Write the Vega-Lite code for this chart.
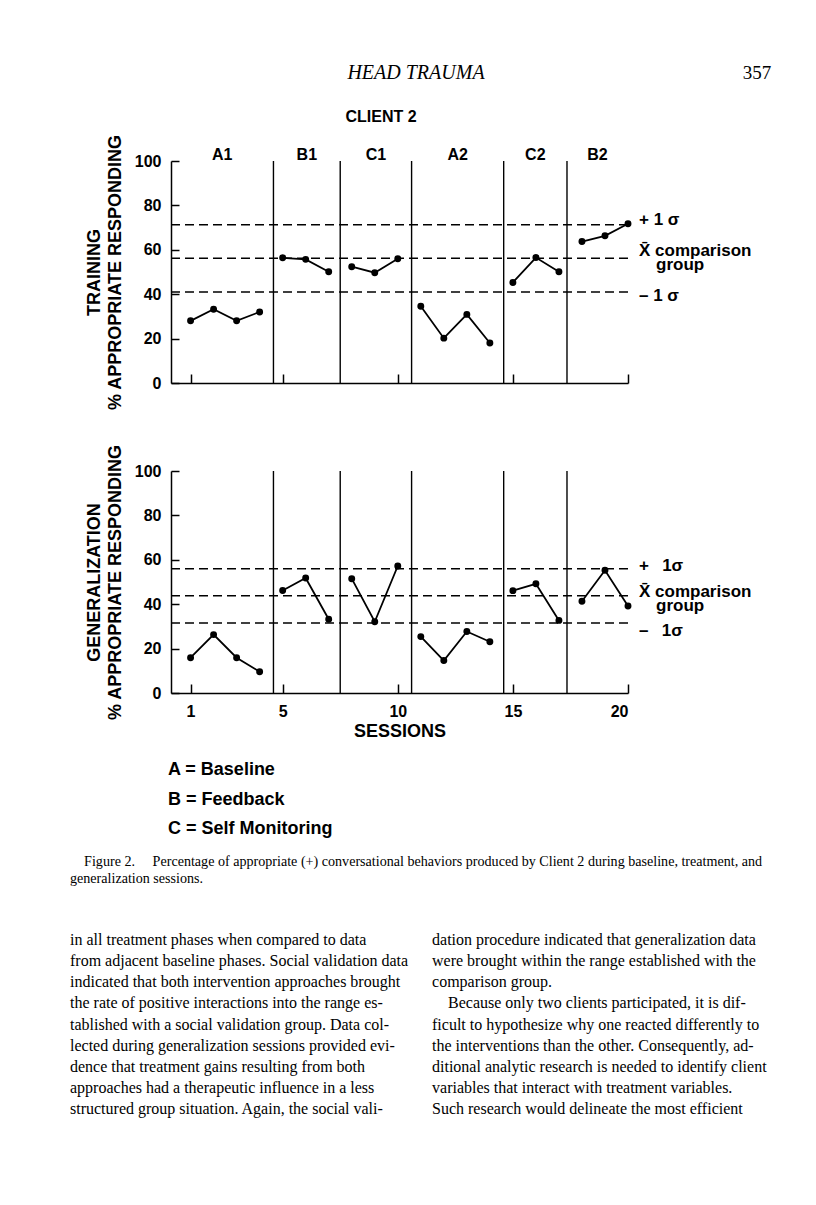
{
  "$schema": "https://vega.github.io/schema/vega-lite/v6.json",
  "background": "white",
  "padding": {"left": 70, "top": 0, "right": 0, "bottom": 0},
  "bounds": "flush",
  "spacing": 88,
  "config": {
    "view": {"stroke": null},
    "font": "Liberation Sans",
    "axis": {
      "grid": false,
      "domainColor": "black",
      "domainWidth": 1.5,
      "tickColor": "black",
      "tickWidth": 1.5,
      "labelColor": "black",
      "titleColor": "black",
      "labelFont": "Liberation Sans",
      "titleFont": "Liberation Sans",
      "labelFontWeight": "bold",
      "titleFontWeight": "bold",
      "labelFontSize": 16,
      "titleFontSize": 18
    }
  },
  "datasets": {
    "sessions": [
      {"measure": "Training", "phase": "A1", "session": 1, "pct": 28.0},
      {"measure": "Training", "phase": "A1", "session": 2, "pct": 33.2},
      {"measure": "Training", "phase": "A1", "session": 3, "pct": 28.0},
      {"measure": "Training", "phase": "A1", "session": 4, "pct": 32.0},
      {"measure": "Training", "phase": "B1", "session": 5, "pct": 56.4},
      {"measure": "Training", "phase": "B1", "session": 6, "pct": 55.7},
      {"measure": "Training", "phase": "B1", "session": 7, "pct": 50.1},
      {"measure": "Training", "phase": "C1", "session": 8, "pct": 52.4},
      {"measure": "Training", "phase": "C1", "session": 9, "pct": 49.7},
      {"measure": "Training", "phase": "C1", "session": 10, "pct": 56.0},
      {"measure": "Training", "phase": "A2", "session": 11, "pct": 34.6},
      {"measure": "Training", "phase": "A2", "session": 12, "pct": 20.2},
      {"measure": "Training", "phase": "A2", "session": 13, "pct": 30.9},
      {"measure": "Training", "phase": "A2", "session": 14, "pct": 18.0},
      {"measure": "Training", "phase": "C2", "session": 15, "pct": 45.3},
      {"measure": "Training", "phase": "C2", "session": 16, "pct": 56.5},
      {"measure": "Training", "phase": "C2", "session": 17, "pct": 50.1},
      {"measure": "Training", "phase": "B2", "session": 18, "pct": 63.7},
      {"measure": "Training", "phase": "B2", "session": 19, "pct": 66.3},
      {"measure": "Training", "phase": "B2", "session": 20, "pct": 71.7},
      {"measure": "Generalization", "phase": "A1", "session": 1, "pct": 15.9},
      {"measure": "Generalization", "phase": "A1", "session": 2, "pct": 26.3},
      {"measure": "Generalization", "phase": "A1", "session": 3, "pct": 15.9},
      {"measure": "Generalization", "phase": "A1", "session": 4, "pct": 9.6},
      {"measure": "Generalization", "phase": "B1", "session": 5, "pct": 46.2},
      {"measure": "Generalization", "phase": "B1", "session": 6, "pct": 51.8},
      {"measure": "Generalization", "phase": "B1", "session": 7, "pct": 33.2},
      {"measure": "Generalization", "phase": "C1", "session": 8, "pct": 51.5},
      {"measure": "Generalization", "phase": "C1", "session": 9, "pct": 32.1},
      {"measure": "Generalization", "phase": "C1", "session": 10, "pct": 57.2},
      {"measure": "Generalization", "phase": "A2", "session": 11, "pct": 25.4},
      {"measure": "Generalization", "phase": "A2", "session": 12, "pct": 14.6},
      {"measure": "Generalization", "phase": "A2", "session": 13, "pct": 27.7},
      {"measure": "Generalization", "phase": "A2", "session": 14, "pct": 23.1},
      {"measure": "Generalization", "phase": "C2", "session": 15, "pct": 46.1},
      {"measure": "Generalization", "phase": "C2", "session": 16, "pct": 49.2},
      {"measure": "Generalization", "phase": "C2", "session": 17, "pct": 32.7},
      {"measure": "Generalization", "phase": "B2", "session": 18, "pct": 41.3},
      {"measure": "Generalization", "phase": "B2", "session": 19, "pct": 55.3},
      {"measure": "Generalization", "phase": "B2", "session": 20, "pct": 39.2}
    ],
    "phases": [
      {"phase": "A1", "start": 0.15, "end": 4.6},
      {"phase": "B1", "start": 4.6, "end": 7.5},
      {"phase": "C1", "start": 7.5, "end": 10.6},
      {"phase": "A2", "start": 10.6, "end": 14.6},
      {"phase": "C2", "start": 14.6, "end": 17.35},
      {"phase": "B2", "start": 17.35, "end": 20}
    ],
    "comparison": [
      {"measure": "Training", "level": "+1 SD", "pct": 71.3, "label": "+ 1 σ"},
      {"measure": "Training", "level": "mean", "pct": 56.2, "label": ["X̄ comparison", "\u200b\u2003group"]},
      {"measure": "Training", "level": "-1 SD", "pct": 41.0, "label": "– 1 σ"},
      {"measure": "Generalization", "level": "+1 SD", "pct": 56.0, "label": "+\u2002 1σ"},
      {"measure": "Generalization", "level": "mean", "pct": 43.8, "label": ["X̄ comparison", "\u200b\u2003group"]},
      {"measure": "Generalization", "level": "-1 SD", "pct": 31.5, "label": "–\u2002 1σ"}
    ],
    "header": [
      {"place": "running head", "text": "HEAD TRAUMA"},
      {"place": "folio", "text": "357"}
    ],
    "figtitle": [
      {"place": "figure title", "text": "CLIENT 2"}
    ],
    "legend": [
      {"line": 1, "text": "A = Baseline"},
      {"line": 2, "text": "B = Feedback"},
      {"line": 3, "text": "C = Self Monitoring"}
    ],
    "caption": [
      {"line": 1, "text": "\u200b\u2003Figure 2.\u2003 Percentage of appropriate (+) conversational behaviors produced by Client 2 during baseline, treatment, and"},
      {"line": 2, "text": "generalization sessions."}
    ],
    "body": [
      {"column": "left", "line": 1, "text": "in all treatment phases when compared to data"},
      {"column": "left", "line": 2, "text": "from adjacent baseline phases. Social validation data"},
      {"column": "left", "line": 3, "text": "indicated that both intervention approaches brought"},
      {"column": "left", "line": 4, "text": "the rate of positive interactions into the range es-"},
      {"column": "left", "line": 5, "text": "tablished with a social validation group. Data col-"},
      {"column": "left", "line": 6, "text": "lected during generalization sessions provided evi-"},
      {"column": "left", "line": 7, "text": "dence that treatment gains resulting from both"},
      {"column": "left", "line": 8, "text": "approaches had a therapeutic influence in a less"},
      {"column": "left", "line": 9, "text": "structured group situation. Again, the social vali-"},
      {"column": "right", "line": 1, "text": "dation procedure indicated that generalization data"},
      {"column": "right", "line": 2, "text": "were brought within the range established with the"},
      {"column": "right", "line": 3, "text": "comparison group."},
      {"column": "right", "line": 4, "text": "\u200b\u2003Because only two clients participated, it is dif-"},
      {"column": "right", "line": 5, "text": "ficult to hypothesize why one reacted differently to"},
      {"column": "right", "line": 6, "text": "the interventions than the other. Consequently, ad-"},
      {"column": "right", "line": 7, "text": "ditional analytic research is needed to identify client"},
      {"column": "right", "line": 8, "text": "variables that interact with treatment variables."},
      {"column": "right", "line": 9, "text": "Such research would delineate the most efficient"}
    ]
  },
  "vconcat": [
    {
      "width": 457,
      "height": 73,
      "layer": [
        {
          "data": {"name": "header"},
          "transform": [{"filter": "datum.place === 'running head'"}],
          "mark": {"type": "text", "font": "Liberation Serif", "fontSize": 20, "fontStyle": "italic", "baseline": "middle", "align": "center", "color": "black"},
          "encoding": {
            "x": {"field": "place", "type": "nominal", "scale": {"type": "point", "domain": ["running head", "folio"], "range": [245, 586], "padding": 0}, "axis": null},
            "y": {"field": "place", "type": "nominal", "scale": {"type": "point", "domain": ["running head", "folio"], "range": [73, 73], "padding": 0}, "axis": null},
            "text": {"field": "text"}
          }
        },
        {
          "data": {"name": "header"},
          "transform": [{"filter": "datum.place === 'folio'"}],
          "mark": {"type": "text", "font": "Liberation Serif", "fontSize": 19, "baseline": "middle", "align": "center", "color": "black"},
          "encoding": {
            "x": {"field": "place", "type": "nominal", "scale": {"type": "point", "domain": ["running head", "folio"], "range": [245, 586], "padding": 0}, "axis": null},
            "y": {"field": "place", "type": "nominal", "scale": {"type": "point", "domain": ["running head", "folio"], "range": [73, 73], "padding": 0}, "axis": null},
            "text": {"field": "text"}
          }
        },
        {
          "data": {"name": "figtitle"},
          "mark": {"type": "text", "font": "Liberation Sans", "fontWeight": "bold", "fontSize": 16, "baseline": "middle", "align": "center", "color": "black"},
          "encoding": {
            "x": {"field": "place", "type": "nominal", "scale": {"type": "point", "range": [210, 210], "padding": 0}, "axis": null},
            "y": {"field": "place", "type": "nominal", "scale": {"type": "point", "range": [117, 117], "padding": 0}, "axis": null},
            "text": {"field": "text"}
          }
        }
      ],
      "resolve": {"scale": {"x": "independent", "y": "independent"}}
    },
    {
      "width": 457,
      "height": 222,
      "layer": [
        {
          "data": {"name": "phases"},
          "transform": [{"filter": "datum.end < 20"}],
          "mark": {"type": "rule", "color": "black", "strokeWidth": 1.4},
          "encoding": {
            "x": {"field": "end", "type": "quantitative", "scale": {"domain": [0.15, 20], "nice": false, "zero": false},
              "axis": {"values": [1, 5, 10, 15, 20], "tickSize": -9, "labels": false, "title": null}},
            "y": {"datum": 0, "type": "quantitative", "scale": {"domain": [0, 100], "nice": false},
              "axis": {"values": [0, 20, 40, 60, 80, 100], "tickSize": -8, "labelPadding": 18, "titlePadding": 10, "titleLineHeight": 21, "title": ["TRAINING", "% APPROPRIATE RESPONDING"]}},
            "y2": {"datum": 100}
          }
        },
        {
          "data": {"name": "comparison"},
          "transform": [{"filter": "datum.measure === 'Training'"}],
          "mark": {"type": "rule", "color": "black", "strokeWidth": 1.6, "strokeDash": [9, 5]},
          "encoding": {
            "x": {"datum": 0.15, "type": "quantitative"},
            "x2": {"datum": 20},
            "y": {"field": "pct", "type": "quantitative"}
          }
        },
        {
          "data": {"name": "comparison"},
          "transform": [{"filter": "datum.measure === 'Training' && datum.level === '+1 SD'"}],
          "mark": {"type": "text", "align": "left", "baseline": "alphabetic", "dx": 11, "fontSize": 17, "fontWeight": "bold", "color": "black"},
          "encoding": {
            "x": {"datum": 20, "type": "quantitative"},
            "y": {"field": "pct", "type": "quantitative"},
            "text": {"field": "label"}
          }
        },
        {
          "data": {"name": "comparison"},
          "transform": [{"filter": "datum.measure === 'Training' && datum.level === 'mean'"}],
          "mark": {"type": "text", "align": "left", "baseline": "middle", "dx": 11, "dy": -7, "fontSize": 17, "fontWeight": "bold", "lineHeight": 14, "color": "black"},
          "encoding": {
            "x": {"datum": 20, "type": "quantitative"},
            "y": {"field": "pct", "type": "quantitative"},
            "text": {"field": "label"}
          }
        },
        {
          "data": {"name": "comparison"},
          "transform": [{"filter": "datum.measure === 'Training' && datum.level === '-1 SD'"}],
          "mark": {"type": "text", "align": "left", "baseline": "middle", "dx": 11, "dy": 4, "fontSize": 17, "fontWeight": "bold", "color": "black"},
          "encoding": {
            "x": {"datum": 20, "type": "quantitative"},
            "y": {"field": "pct", "type": "quantitative"},
            "text": {"field": "label"}
          }
        },
        {
          "data": {"name": "sessions"},
          "transform": [{"filter": "datum.measure === 'Training'"}],
          "mark": {"type": "line", "color": "black", "strokeWidth": 1.8},
          "encoding": {
            "x": {"field": "session", "type": "quantitative"},
            "y": {"field": "pct", "type": "quantitative"},
            "detail": {"field": "phase"}
          }
        },
        {
          "data": {"name": "sessions"},
          "transform": [{"filter": "datum.measure === 'Training'"}],
          "mark": {"type": "circle", "color": "black", "size": 48, "opacity": 1},
          "encoding": {
            "x": {"field": "session", "type": "quantitative"},
            "y": {"field": "pct", "type": "quantitative"}
          }
        },
        {
          "data": {"name": "phases"},
          "transform": [{"calculate": "(datum.start + datum.end) / 2", "as": "mid"}],
          "mark": {"type": "text", "baseline": "alphabetic", "dy": -1, "fontSize": 16, "fontWeight": "bold", "color": "black"},
          "encoding": {
            "x": {"field": "mid", "type": "quantitative"},
            "y": {"datum": 100, "type": "quantitative"},
            "text": {"field": "phase"}
          }
        }
      ]
    },
    {
      "width": 457,
      "height": 222,
      "layer": [
        {
          "data": {"name": "phases"},
          "transform": [{"filter": "datum.end < 20"}],
          "mark": {"type": "rule", "color": "black", "strokeWidth": 1.4},
          "encoding": {
            "x": {"field": "end", "type": "quantitative", "scale": {"domain": [0.15, 20], "nice": false, "zero": false},
              "axis": {"values": [1, 5, 10, 15, 20], "tickSize": -9, "labelPadding": 19, "titlePadding": 3, "title": "SESSIONS"}},
            "y": {"datum": 0, "type": "quantitative", "scale": {"domain": [0, 100], "nice": false},
              "axis": {"values": [0, 20, 40, 60, 80, 100], "tickSize": -8, "labelPadding": 18, "titlePadding": 10, "titleLineHeight": 21, "title": ["GENERALIZATION", "% APPROPRIATE RESPONDING"]}},
            "y2": {"datum": 100}
          }
        },
        {
          "data": {"name": "comparison"},
          "transform": [{"filter": "datum.measure === 'Generalization'"}],
          "mark": {"type": "rule", "color": "black", "strokeWidth": 1.6, "strokeDash": [9, 5]},
          "encoding": {
            "x": {"datum": 0.15, "type": "quantitative"},
            "x2": {"datum": 20},
            "y": {"field": "pct", "type": "quantitative"}
          }
        },
        {
          "data": {"name": "comparison"},
          "transform": [{"filter": "datum.measure === 'Generalization' && datum.level === '+1 SD'"}],
          "mark": {"type": "text", "align": "left", "baseline": "alphabetic", "dx": 11, "dy": 2, "fontSize": 17, "fontWeight": "bold", "color": "black"},
          "encoding": {
            "x": {"datum": 20, "type": "quantitative"},
            "y": {"field": "pct", "type": "quantitative"},
            "text": {"field": "label"}
          }
        },
        {
          "data": {"name": "comparison"},
          "transform": [{"filter": "datum.measure === 'Generalization' && datum.level === 'mean'"}],
          "mark": {"type": "text", "align": "left", "baseline": "middle", "dx": 11, "dy": -4, "fontSize": 17, "fontWeight": "bold", "lineHeight": 14, "color": "black"},
          "encoding": {
            "x": {"datum": 20, "type": "quantitative"},
            "y": {"field": "pct", "type": "quantitative"},
            "text": {"field": "label"}
          }
        },
        {
          "data": {"name": "comparison"},
          "transform": [{"filter": "datum.measure === 'Generalization' && datum.level === '-1 SD'"}],
          "mark": {"type": "text", "align": "left", "baseline": "middle", "dx": 11, "dy": 8, "fontSize": 17, "fontWeight": "bold", "color": "black"},
          "encoding": {
            "x": {"datum": 20, "type": "quantitative"},
            "y": {"field": "pct", "type": "quantitative"},
            "text": {"field": "label"}
          }
        },
        {
          "data": {"name": "sessions"},
          "transform": [{"filter": "datum.measure === 'Generalization'"}],
          "mark": {"type": "line", "color": "black", "strokeWidth": 1.8},
          "encoding": {
            "x": {"field": "session", "type": "quantitative"},
            "y": {"field": "pct", "type": "quantitative"},
            "detail": {"field": "phase"}
          }
        },
        {
          "data": {"name": "sessions"},
          "transform": [{"filter": "datum.measure === 'Generalization'"}],
          "mark": {"type": "circle", "color": "black", "size": 48, "opacity": 1},
          "encoding": {
            "x": {"field": "session", "type": "quantitative"},
            "y": {"field": "pct", "type": "quantitative"}
          }
        }
      ]
    },
    {
      "width": 457,
      "height": 424,
      "layer": [
        {
          "data": {"name": "legend"},
          "mark": {"type": "text", "align": "left", "baseline": "middle", "font": "Liberation Sans", "fontWeight": "bold", "fontSize": 18, "color": "black"},
          "encoding": {
            "x": {"datum": "figure", "type": "nominal", "scale": {"type": "point", "domain": ["figure"], "range": [-3, -3], "padding": 0}, "axis": null},
            "y": {"field": "line", "type": "ordinal", "scale": {"type": "point", "range": [-11, 48], "padding": 0}, "axis": null},
            "text": {"field": "text"}
          }
        },
        {
          "data": {"name": "caption"},
          "mark": {"type": "text", "align": "left", "baseline": "middle", "font": "Liberation Serif", "fontSize": 14.1, "color": "black"},
          "encoding": {
            "x": {"datum": "margin", "type": "nominal", "scale": {"type": "point", "domain": ["margin"], "range": [-101, -101], "padding": 0}, "axis": null},
            "y": {"field": "line", "type": "ordinal", "scale": {"type": "point", "range": [81, 98], "padding": 0}, "axis": null},
            "text": {"field": "text"}
          }
        },
        {
          "data": {"name": "body"},
          "mark": {"type": "text", "align": "left", "baseline": "middle", "font": "Liberation Serif", "fontSize": 16, "color": "black"},
          "encoding": {
            "x": {"field": "column", "type": "nominal", "bandPosition": 0, "scale": {"type": "band", "domain": ["left", "right"], "range": [-101, 597], "paddingInner": 0.072, "paddingOuter": 0}, "axis": null},
            "y": {"field": "line", "type": "ordinal", "scale": {"type": "point", "range": [159, 328], "padding": 0}, "axis": null},
            "text": {"field": "text"}
          }
        }
      ],
      "resolve": {"scale": {"x": "independent", "y": "independent"}}
    }
  ]
}
